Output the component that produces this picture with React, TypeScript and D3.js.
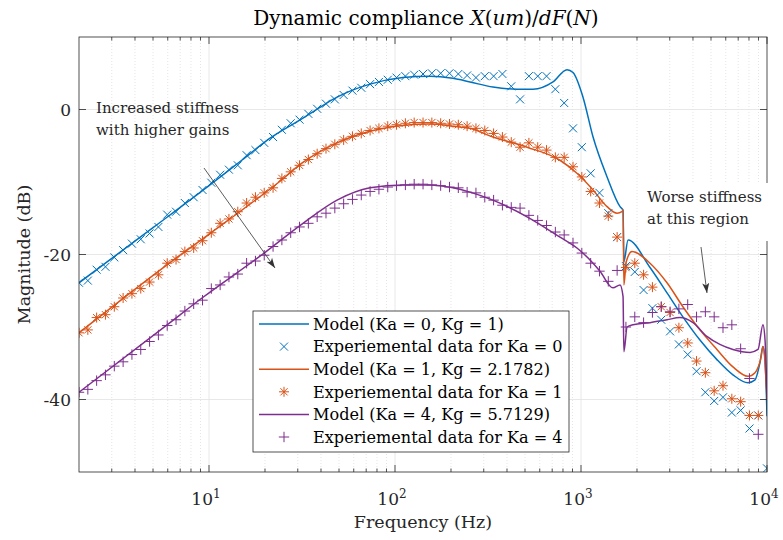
import * as d3 from "d3";

const width = 783;
const height = 540;

// experimental frequencies (Hz), shared by the three data sets
const expFreq = [2, 2.231, 2.488, 2.775, 3.096, 3.453, 3.851, 4.296, 4.792, 5.345, 5.961, 6.649, 7.417, 8.272, 9.227, 10.29, 11.48, 12.8, 14.28, 15.93, 17.77, 19.81, 22.1, 24.65, 27.49, 30.67, 34.21, 38.15, 42.56, 47.47, 52.95, 59.06, 65.87, 73.47, 81.95, 91.41, 101.9, 113.7, 126.8, 141.5, 157.8, 176.0, 196.3, 219.0, 244.2, 272.4, 303.9, 338.9, 378.0, 421.7, 470.3, 524.6, 585.2, 652.7, 728.0, 812.0, 905.7, 1010, 1127, 1257, 1402, 1564, 1744, 1946, 2170, 2421, 2700, 3012, 3360, 3747, 4180, 4662, 5200, 5800, 6470, 7216, 8049, 8978, 10000];

const expKa0 = [
  -23.9, -23.6, -22.1, -21.7, -20.4, -19.4, -18.5, -17.9, -17.1, -16.2,
  -14.5, -14.1, -12.9, -12.1, -11.1, -10.1, -9.0, -8.3, -7.7, -6.3,
  -5.6, -4.6, -3.8, -2.8, -1.9, -1.4, -0.6, 0.1, 0.8, 1.4,
  2.0, 2.6, 3.0, 3.5, 3.8, 4.1, 4.4, 4.6, 4.8, 4.9,
  5.0, 5.0, 5.0, 4.9, 4.7, 4.4, 4.6, 4.6, 4.9, 3.2,
  1.4, 4.6, 4.6, 4.6, 2.8, 0.9, -2.6, -5.2, -8.8, -11.5,
  -14.3, -17.6, -21.6, -22.4, -24.9, -27.4, -29.0, -30.6, -32.4, -33.8,
  -36.1, -39.0, -40.2, -39.7, -41.8, -41.5, -44.0, -42.2, -49.5,
];

const expKa1 = [
  -30.8, -30.4, -28.7, -28.3, -27.2, -26.0, -25.4, -24.7, -23.8, -22.8,
  -21.2, -20.7, -19.6, -19.1, -18.1, -17.0, -15.7, -15.1, -14.1, -12.9,
  -12.1, -11.5, -10.8, -9.5, -8.6, -7.7, -6.9, -6.1, -5.4, -4.8,
  -4.2, -3.7, -3.3, -2.9, -2.6, -2.3, -2.1, -1.9, -1.8, -1.8,
  -1.8, -1.9, -2.0, -2.1, -2.3, -2.6, -2.9, -3.3, -3.8, -4.5,
  -5.2, -4.6, -5.2, -5.6, -6.6, -6.6, -7.9, -9.3, -11.3, -12.9,
  -14.7, -17.6, -21.8, -21.2, -22.8, -24.5, -27.2, -28.0, -30.1, -32.2,
  -34.7, -36.3, -38.8, -38.1, -39.9, -40.3, -42.2, -42.2, null,
];

const expKa4 = [
  -39.0, -38.6, -37.4, -36.6, -35.4, -34.8, -33.8, -33.1, -32.0, -31.1,
  -29.8, -29.0, -27.8, -26.8, -26.3, -24.7, -24.2, -23.1, -22.7, -21.2,
  -20.9, -20.1, -18.9, -18.0, -17.0, -16.2, -15.7, -14.8, -14.3, -13.6,
  -13.0, -12.4, -11.8, -11.3, -11.0, -10.7, -10.5, -10.4, -10.3, -10.3,
  -10.4, -10.5, -10.7, -10.8, -11.4, -11.5, -12.1, -12.5, -13.2, -13.5,
  -13.6, -14.6, -15.3, -16.0, -16.9, -17.3, -18.4, -19.8, -21.2, -22.3,
  -23.7, -22.2, -30.0, -28.6, -29.4, -28.0, -27.2, -27.9, -27.5, -26.9,
  -28.6, -27.9, -28.6, -30.1, -29.7, -33.0, -37.1, -44.8, null,
];

// model curves
const modelKa0F = [2, 5, 10, 15, 21.3, 32, 39.5, 48.8, 73.4, 110, 154, 205, 253, 336, 453, 552, 707, 841, 906, 1025, 1161, 1381, 1622, 1683, 1700, 1790, 2350, 2900, 3530, 4360, 5380, 6560, 7900, 8620, 9170, 9510, 9760, 10000];
const modelKa0 = [-23.9, -16.3, -10.5, -7.0, -3.96, -1.2, 0.3, 1.7, 3.5, 4.4, 4.6, 4.3, 3.8, 3.1, 2.8, 2.8, 3.8, 5.5, 5.1, 1.7, -3.8, -9.3, -13.4, -13.9, -21.0, -18.0, -21.8, -25.3, -28.6, -31.8, -34.5, -36.6, -37.7, -37.3, -34.9, -32.7, -34.5, -42.3];

const modelKa1F = [2, 3.28, 6.9, 12.8, 23.8, 32, 48.8, 73.4, 110, 154, 205, 253, 336, 513, 771, 951, 1161, 1381, 1563, 1660, 1685, 1700, 1750, 1880, 2350, 2900, 3530, 4360, 5380, 6560, 7900, 8620, 9300, 9510, 10000];
const modelKa1 = [-30.8, -26.5, -20.2, -15.2, -10.0, -7.3, -4.6, -3.0, -2.2, -2.0, -2.3, -2.6, -3.8, -5.2, -7.0, -8.8, -11.1, -13.4, -14.3, -14.1, -13.8, -24.2, -21.0, -19.6, -21.2, -23.9, -27.2, -30.4, -33.1, -35.5, -36.8, -36.3, -34.1, -32.7, -40.0];

const modelKa4F = [2, 5.95, 9.17, 19.8, 32, 48.8, 73.4, 110, 154, 205, 253, 336, 513, 771, 951, 1161, 1265, 1486, 1622, 1683, 1700, 1770, 1904, 2350, 2900, 3405, 4000, 4750, 5580, 6560, 8110, 8950, 9510, 9760, 10000];
const modelKa4 = [-39.0, -29.7, -26.0, -19.8, -15.7, -12.5, -10.8, -10.4, -10.4, -10.8, -11.4, -12.5, -14.8, -17.6, -19.1, -21.2, -22.3, -24.6, -24.2, -25.8, -33.4, -30.0, -29.7, -29.4, -29.0, -28.7, -29.4, -31.3, -32.4, -33.1, -33.5, -33.1, -29.7, -31.8, -40.0];

const yTicks = [-40, -20, 0];
const xMajor = [10, 100, 1000, 10000];
const xExponents = ["1", "2", "3", "4"];

const legendLabels = [
  "Model (Ka = 0, Kg = 1)",
  "Experiemental data for Ka = 0",
  "Model (Ka = 1, Kg = 2.1782)",
  "Experiemental data for Ka = 1",
  "Model (Ka = 4, Kg = 5.7129)",
  "Experiemental data for Ka = 4",
];

const blue = "#0072BD";
const orange = "#D95319";
const purple = "#7E2F8E";
const axisColor = "#262626";
const font = "DejaVu Serif";

type Shape = "x" | "star" | "plus";

function markerPath(shape: Shape, cx: number, cy: number) {
  if (shape === "x") {
    const r = 4;
    return `M${cx - r},${cy - r}L${cx + r},${cy + r}M${cx - r},${cy + r}L${cx + r},${cy - r}`;
  }
  if (shape === "plus") {
    const r = 5.2;
    return `M${cx - r},${cy}L${cx + r},${cy}M${cx},${cy - r}L${cx},${cy + r}`;
  }
  const r = 5;
  const d = r * 0.72;
  return `M${cx - r},${cy}L${cx + r},${cy}M${cx},${cy - r}L${cx},${cy + r}` +
    `M${cx - d},${cy - d}L${cx + d},${cy + d}M${cx - d},${cy + d}L${cx + d},${cy - d}`;
}

export default function App() {
  const x = d3.scaleLog().domain([2, 10000]).range([79, 767]);
  const y = d3.scaleLinear().domain([-50, 10]).range([472, 37]);
  const [x0, x1] = x.range();
  const [y0, y1] = y.range();

  const minor = x.ticks().filter(t => !xMajor.includes(t) && t > 2);

  const line = d3.line<[number, number]>()
    .x(d => x(d[0]))
    .y(d => y(d[1]))
    .curve(d3.curveMonotoneX);

  const models = [
    { f: modelKa0F, v: modelKa0, color: blue },
    { f: modelKa1F, v: modelKa1, color: orange },
    { f: modelKa4F, v: modelKa4, color: purple },
  ];
  const experiments: { v: (number | null)[]; color: string; shape: Shape }[] = [
    { v: expKa0, color: blue, shape: "x" },
    { v: expKa1, color: orange, shape: "star" },
    { v: expKa4, color: purple, shape: "plus" },
  ];

  const legendItems = legendLabels.map((label, i) => ({
    label,
    color: [blue, blue, orange, orange, purple, purple][i],
    shape: i % 2 === 0 ? null : experiments[(i - 1) / 2].shape,
  }));

  return (
    <svg width={width} height={height}
      style={{ position: "absolute", left: 0, top: 0, background: "#fff", fontFamily: font }}>
      <defs>
        <clipPath id="plot">
          <rect x={x0} y={y1} width={x1 - x0} height={y0 - y1} />
        </clipPath>
        <marker id="arrow" viewBox="0 0 10 10" refX="10" refY="5" markerWidth="10" markerHeight="10"
          markerUnits="userSpaceOnUse" orient="auto">
          <path d="M0,1.5L10,5L0,8.5L2.5,5Z" fill="#333" />
        </marker>
      </defs>

      {/* grid */}
      <g>
        {minor.map(t => (
          <line key={"mg" + t} x1={x(t)} x2={x(t)} y1={y1} y2={y0} stroke="#d4d4d4" strokeWidth={0.6} strokeDasharray="1,2" />
        ))}
        {xMajor.slice(0, 3).map(t => (
          <line key={"xg" + t} x1={x(t)} x2={x(t)} y1={y1} y2={y0} stroke="#e2e2e2" strokeWidth={0.8} />
        ))}
        {yTicks.map(t => (
          <line key={"yg" + t} x1={x0} x2={x1} y1={y(t)} y2={y(t)} stroke="#e2e2e2" strokeWidth={0.8} />
        ))}
      </g>

      {/* data */}
      <g clipPath="url(#plot)">
        {models.map((m, k) => (
          <path key={"m" + k} d={line(m.f.map((f, i) => [f, m.v[i]] as [number, number])) || ""}
            fill="none" stroke={m.color} strokeWidth={1.5} />
        ))}
        {experiments.map((e, k) => (
          <path key={"e" + k}
            d={expFreq.map((f, i) => e.v[i] == null ? "" : markerPath(e.shape, x(f), y(e.v[i] as number))).join("")}
            fill="none" stroke={e.color} strokeWidth={1} />
        ))}
      </g>

      {/* frame */}
      <rect x={x0} y={y1} width={x1 - x0} height={y0 - y1} fill="none" stroke={axisColor} strokeWidth={0.8} />

      {/* ticks */}
      <g stroke={axisColor} strokeWidth={0.8}>
        {xMajor.map(t => (
          <g key={"xt" + t}>
            <line x1={x(t)} x2={x(t)} y1={y0} y2={y0 - 7} />
            <line x1={x(t)} x2={x(t)} y1={y1} y2={y1 + 7} />
          </g>
        ))}
        {minor.map(t => (
          <g key={"xm" + t}>
            <line x1={x(t)} x2={x(t)} y1={y0} y2={y0 - 3.5} />
            <line x1={x(t)} x2={x(t)} y1={y1} y2={y1 + 3.5} />
          </g>
        ))}
        {yTicks.map(t => (
          <g key={"yt" + t}>
            <line x1={x0} x2={x0 + 7} y1={y(t)} y2={y(t)} />
            <line x1={x1} x2={x1 - 7} y1={y(t)} y2={y(t)} />
          </g>
        ))}
      </g>

      {/* tick labels */}
      <g fill={axisColor} fontSize={17}>
        {xMajor.map((t, i) => (
          <text key={"xl" + t} x={x(t) - 3} y={505} textAnchor="middle">
            10<tspan fontSize={12} dy={-7}>{xExponents[i]}</tspan>
          </text>
        ))}
        {yTicks.map(t => (
          <text key={"yl" + t} x={71} y={y(t)} dy="0.36em" textAnchor="end">{t}</text>
        ))}
      </g>

      {/* axis labels and title */}
      <text x={(x0 + x1) / 2} y={528} textAnchor="middle" fontSize={17.5} fill={axisColor}>Frequency (Hz)</text>
      <text transform={`translate(30,${(y0 + y1) / 2}) rotate(-90)`} textAnchor="middle" fontSize={17.5} fill={axisColor}>
        Magnitude (dB)
      </text>
      <text x={(x0 + x1) / 2 + 3} y={25} textAnchor="middle" fontSize={20} fill="#000">
        Dynamic compliance <tspan fontStyle="italic">X</tspan>(<tspan fontStyle="italic">um</tspan>)/<tspan fontStyle="italic">dF</tspan>(<tspan fontStyle="italic">N</tspan>)
      </text>

      {/* legend */}
      <g>
        <rect x={253} y={311} width={316} height={141} fill="#fff" stroke={axisColor} strokeWidth={0.8} />
        {legendItems.map((it, i) => {
          const cy = 324 + i * 22.6;
          return (
            <g key={"lg" + i}>
              {it.shape == null
                ? <line x1={259} x2={309} y1={cy} y2={cy} stroke={it.color} strokeWidth={1.5} />
                : <path d={markerPath(it.shape, 284, cy)} stroke={it.color} strokeWidth={1} fill="none" />}
              <text x={313} y={cy} dy="0.36em" fontSize={16.1} fill="#000">{it.label}</text>
            </g>
          );
        })}
      </g>

      {/* annotations */}
      <text x={96} y={113} fontSize={15} fill={axisColor}>
        <tspan x={96}>Increased stiffness</tspan>
        <tspan x={96} dy={22}>with higher gains</tspan>
      </text>
      <line x1={204} y1={168} x2={275} y2={268} stroke="#333" strokeWidth={0.8} markerEnd="url(#arrow)" />

      <rect x={643} y={183} width={128} height={58} fill="#fff" />
      <text x={647} y={202} fontSize={15} fill={axisColor}>
        <tspan x={647}>Worse stiffness</tspan>
        <tspan x={647} dy={22}>at this region</tspan>
      </text>
      <line x1={701} y1={247} x2={707} y2={293} stroke="#333" strokeWidth={0.8} markerEnd="url(#arrow)" />
    </svg>
  );
}
